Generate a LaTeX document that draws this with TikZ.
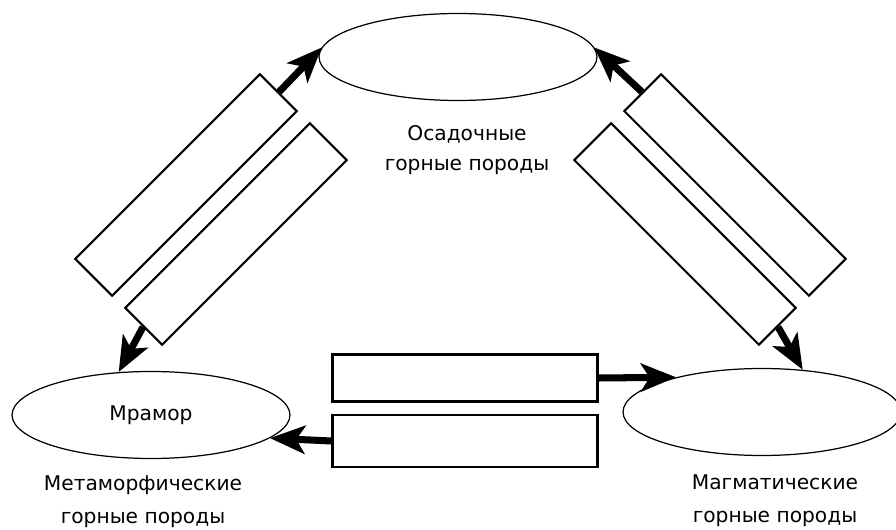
\documentclass[tikz,border=0pt]{standalone}
\usepackage{fontspec}
\setmainfont{DejaVu Sans}
\usetikzlibrary{arrows.meta,shapes.geometric}
\tikzset{
  rock/.style={draw, ellipse, line width=0.7pt, minimum width=5.56cm, minimum height=1.74cm, inner sep=0pt, font=\fontsize{11.5}{17}\selectfont},
  slot/.style={draw, fill=white, line width=1.2pt, minimum width=5.22cm, minimum height=1.04cm, inner sep=0pt},
  flow/.style={line width=4pt, -{Stealth[length=20pt,width=16pt,inset=5pt]}},
  caption/.style={align=center, font=\fontsize{11.5}{17}\selectfont}
}
\begin{document}
\begin{tikzpicture}[x=0.02cm, y=-0.02cm]
\useasboundingbox (0,0) rectangle (896,530);
\node[rock] (sed) at (458,57) {};
\node[rock] (meta) at (151,415) {Мрамор};
\node[rock] (magm) at (762,412) {};
\node[caption] (sedtext) at (467,150) {Осадочные\\горные породы};
\node[caption] (metatext) at (143,502) {Метаморфические\\[2pt]горные породы};
\node[caption] (magmtext) at (775,501) {Магматические\\[2pt]горные породы};

\node[slot, rotate=45] (sedL) at (186,185) {};
\node[slot, rotate=45] (metaL) at (236,234) {};
\node[slot, rotate=-45] (sedR) at (735,185) {};
\node[slot, rotate=-45] (magmR) at (685,234) {};
\node[slot, minimum width=5.3cm, minimum height=0.94cm] (magmB) at (465,378) {};
\node[slot, minimum width=5.3cm, minimum height=1.04cm] (metaB) at (465,441) {};

\draw[flow] (sedL.east) -- (sed.176);
\draw[flow] (metaL.west) -- (meta.127);
\draw[flow] (sedR.west) -- (sed.4);
\draw[flow] (magmR.east) -- (magm.46);
\draw[flow] (magmB.east) -- (magm.158);
\draw[flow] (metaB.west) -- (meta.349);
\end{tikzpicture}
\end{document}
